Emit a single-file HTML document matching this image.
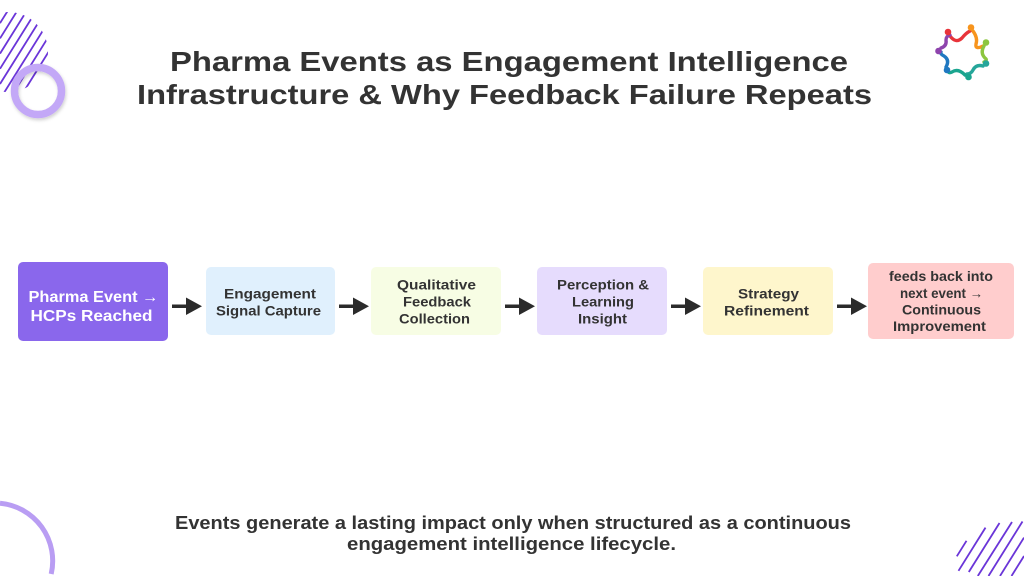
<!DOCTYPE html>
<html>
<head>
<meta charset="utf-8">
<style>
html,body{margin:0;padding:0;background:#fff;width:1024px;height:576px;overflow:hidden;}
svg{display:block;}
text{font-family:"Liberation Sans",Arial,sans-serif;font-weight:bold;}
</style>
</head>
<body>
<svg width="1024" height="576" viewBox="0 0 1024 576" xmlns="http://www.w3.org/2000/svg" overflow="hidden">
<defs>
  <clipPath id="tl"><circle cx="8" cy="52" r="40"/></clipPath>
  <clipPath id="br"><rect x="950" y="520" width="74" height="56"/></clipPath>
  <filter id="sh" x="-30%" y="-30%" width="160%" height="160%">
    <feDropShadow dx="1" dy="2" stdDeviation="1.5" flood-color="#000" flood-opacity="0.18"/>
  </filter>
</defs>
<rect width="1024" height="576" fill="#fff"/>

<!-- top-left stripes -->
<g clip-path="url(#tl)" stroke="#6a35d8" stroke-width="1.8">
  <line x1="5" y1="0" x2="0" y2="8"/>
  <line x1="14.5" y1="0" x2="0" y2="23.2"/>
  <line x1="24" y1="0" x2="0" y2="38.4"/>
  <line x1="33.5" y1="0" x2="0" y2="53.6"/>
  <line x1="43" y1="0" x2="0" y2="68.8"/>
  <line x1="52.5" y1="0" x2="0" y2="84"/>
  <line x1="62" y1="0" x2="0" y2="99.2"/>
  <line x1="71.5" y1="0" x2="9" y2="100"/>
  <line x1="81" y1="0" x2="18.5" y2="100"/>
  <line x1="90.5" y1="0" x2="28" y2="100"/>
  <line x1="100" y1="0" x2="37.5" y2="100"/>
  <line x1="109.5" y1="0" x2="47" y2="100"/>
</g>
<!-- top-left ring -->
<circle cx="38" cy="91" r="23.5" fill="none" stroke="#c3a8f7" stroke-width="7.5" filter="url(#sh)"/>

<!-- bottom-left arc -->
<path d="M0 503.2 A58 58 0 0 1 51.2 574" fill="none" stroke="#b99df3" stroke-width="5"/>

<!-- bottom-right stripes (segments inside circle cx1010 cy580 r58) -->
<g stroke="#6a35d8" stroke-width="1.8" stroke-linecap="butt">
  <line x1="966.5" y1="540.8" x2="956.8" y2="556.3"/>
  <line x1="985.5" y1="527.6" x2="958.5" y2="570.8"/>
  <line x1="999.5" y1="523" x2="968.8" y2="572"/>
  <line x1="1012" y1="522" x2="977.8" y2="576"/>
  <line x1="1022.5" y1="521.5" x2="988.5" y2="576"/>
  <line x1="1024" y1="537.6" x2="1000" y2="576"/>
  <line x1="1024" y1="556" x2="1011.5" y2="576"/>
</g>

<!-- logo -->
<g fill="none" stroke-width="3.4" stroke-linecap="round">
  <path d="M950 36 Q956 44 962 38 Q966 33 970 31" stroke="#e8343a"/>
  <path d="M973 31 Q978 38 976 44 Q975 50 983 46" stroke="#f7941d"/>
  <path d="M984 46 Q980 53 985 58 Q988 60 984 62" stroke="#8dc63f"/>
  <path d="M983 66 Q976 64 973 70 Q971 74 967 74" stroke="#26a69a"/>
  <path d="M965 75 Q958 68 952 72 Q948 74 948 70" stroke="#1aa58f"/>
  <path d="M946 67 Q950 60 944 56 Q940 54 941 52" stroke="#1f78c1"/>
  <path d="M941 48 Q947 46 946 40 Q946 36 950 35" stroke="#8e44ad"/>
</g>
<circle cx="948" cy="32" r="3.3" fill="#e8343a"/>
<circle cx="971" cy="27.5" r="3.3" fill="#f7941d"/>
<circle cx="986" cy="42.5" r="3.3" fill="#8dc63f"/>
<circle cx="986" cy="63.5" r="3.3" fill="#26a69a"/>
<circle cx="968.5" cy="77" r="3.3" fill="#1aa58f"/>
<circle cx="947" cy="70" r="3.3" fill="#1f78c1"/>
<circle cx="938.5" cy="51" r="3.3" fill="#8e44ad"/>

<!-- title -->
<text x="170" y="71" font-size="28" fill="#333" textLength="678" lengthAdjust="spacingAndGlyphs">Pharma Events as Engagement Intelligence</text>
<text x="137" y="104" font-size="28" fill="#333" textLength="735" lengthAdjust="spacingAndGlyphs">Infrastructure &amp; Why Feedback Failure Repeats</text>

<!-- boxes -->
<rect x="18" y="262" width="150" height="79" rx="5" fill="#8a67ec"/>
<rect x="206" y="267" width="129" height="68" rx="5" fill="#e0f0fd"/>
<rect x="371" y="267" width="130" height="68" rx="5" fill="#f7fde4"/>
<rect x="537" y="267" width="130" height="68" rx="5" fill="#e6dcfd"/>
<rect x="703" y="267" width="130" height="68" rx="5" fill="#fef6cc"/>
<rect x="868" y="263" width="146" height="76" rx="5" fill="#ffcdcd"/>

<!-- arrows -->
<g fill="#2b2b2b">
  <rect x="172" y="304.5" width="15" height="3.5"/><polygon points="186,297.5 202,306.3 186,315"/>
  <rect x="339" y="304.5" width="15" height="3.5"/><polygon points="353,297.5 369,306.3 353,315"/>
  <rect x="505" y="304.5" width="15" height="3.5"/><polygon points="519,297.5 535,306.3 519,315"/>
  <rect x="671" y="304.5" width="15" height="3.5"/><polygon points="685,297.5 701,306.3 685,315"/>
  <rect x="837" y="304.5" width="15" height="3.5"/><polygon points="851,297.5 867,306.3 851,315"/>
</g>

<!-- box texts -->
<text x="28.5" y="302" font-size="15.5" fill="#fff" textLength="130" lengthAdjust="spacingAndGlyphs">Pharma Event →</text>
<text x="30.5" y="321" font-size="15.5" fill="#fff" textLength="122" lengthAdjust="spacingAndGlyphs">HCPs Reached</text>

<g font-size="13.5" fill="#333">
<text x="224" y="298.5" textLength="92" lengthAdjust="spacingAndGlyphs">Engagement</text>
<text x="216" y="315.5" textLength="105" lengthAdjust="spacingAndGlyphs">Signal Capture</text>

<text x="397" y="289.5" textLength="79" lengthAdjust="spacingAndGlyphs">Qualitative</text>
<text x="403" y="306.5" textLength="68" lengthAdjust="spacingAndGlyphs">Feedback</text>
<text x="399" y="323.5" textLength="71" lengthAdjust="spacingAndGlyphs">Collection</text>

<text x="557" y="289.5" textLength="92" lengthAdjust="spacingAndGlyphs">Perception &amp;</text>
<text x="572" y="306.5" textLength="62" lengthAdjust="spacingAndGlyphs">Learning</text>
<text x="578" y="323.5" textLength="49" lengthAdjust="spacingAndGlyphs">Insight</text>

<text x="738" y="298.5" textLength="61" lengthAdjust="spacingAndGlyphs">Strategy</text>
<text x="724" y="315.5" textLength="85" lengthAdjust="spacingAndGlyphs">Refinement</text>

<text x="889" y="281" textLength="104" lengthAdjust="spacingAndGlyphs">feeds back into</text>
<text x="900" y="298" textLength="83" lengthAdjust="spacingAndGlyphs">next event →</text>
<text x="902" y="314.5" textLength="79" lengthAdjust="spacingAndGlyphs">Continuous</text>
<text x="893" y="331" textLength="93" lengthAdjust="spacingAndGlyphs">Improvement</text>
</g>

<!-- bottom text -->
<text x="175" y="529" font-size="18" fill="#333" textLength="676" lengthAdjust="spacingAndGlyphs">Events generate a lasting impact only when structured as a continuous</text>
<text x="347" y="550" font-size="18" fill="#333" textLength="329" lengthAdjust="spacingAndGlyphs">engagement intelligence lifecycle.</text>
</svg>
</body>
</html>
